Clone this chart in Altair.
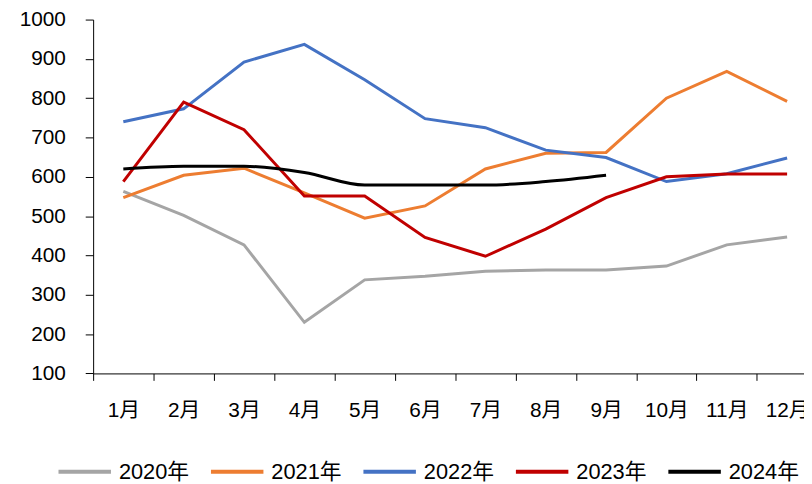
import altair as alt
import pandas as pd

months = list(range(1, 13))
years = ['2020年', '2021年', '2022年', '2023年', '2024年']
colors = ['#A5A5A5', '#ED7D31', '#4472C4', '#C00000', '#000000']

v2020 = [563, 502, 427, 230, 338, 347, 360, 363, 363, 373, 427, 447]
v2021 = [547, 604, 622, 559, 495, 526, 620, 660, 662, 800, 868, 792]
v2022 = [740, 773, 892, 937, 847, 748, 725, 668, 649, 588, 608, 648]
v2023 = [588, 790, 720, 551, 551, 446, 398, 467, 547, 600, 607, 607]
v2024 = [620, 627, 627, 611, 579, 579, 579, 588, 604]

FONT = 'Liberation Sans, Arial, Noto Sans CJK SC'


def to_long(values, year):
    return pd.DataFrame({'月份': months[:len(values)], '价格': values, '年份': year})


df = pd.concat([to_long(v, y) for v, y in
                zip([v2020, v2021, v2022, v2023, v2024], years)],
               ignore_index=True)

x_enc = alt.X('月份:Q',
              scale=alt.Scale(domain=[0.5, 12.28], nice=False, zero=False),
              axis=alt.Axis(values=months, labelExpr="datum.value + '月'",
                            tickOffset=-30.5, labelOffset=30.5,
                            labelFlush=False, labelOverlap=False,
                            tickSize=7, labelPadding=20,
                            labelBaseline='top',
                            grid=False, title=None))
y_enc = alt.Y('价格:Q',
              scale=alt.Scale(domain=[100, 1000], nice=False, zero=False),
              axis=alt.Axis(values=list(range(100, 1001, 100)), format='d',
                            tickSize=8, labelPadding=20,
                            grid=False, title=None))
color_enc = alt.Color('年份:N',
                      scale=alt.Scale(domain=years, range=colors),
                      legend=alt.Legend(title=None, orient='none',
                                        direction='horizontal',
                                        legendX=-37, legendY=428,
                                        symbolType='stroke', symbolSize=2809,
                                        symbolStrokeWidth=4,
                                        labelFontSize=22, labelOffset=6,
                                        columnPadding=14, padding=0))

base = alt.Chart(df).encode(x=x_enc, y=y_enc, color=color_enc)

straight = base.transform_filter(alt.datum['年份'] != '2024年').mark_line(
    strokeWidth=3)
smooth = base.transform_filter(alt.datum['年份'] == '2024年').mark_line(
    strokeWidth=3, interpolate='monotone')

chart = alt.layer(straight, smooth).properties(
    width=718, height=357.4,
    autosize=alt.AutoSizeParams(type='none'),
    padding={'left': 86, 'top': 9.3, 'right': 0, 'bottom': 109.3}
).configure_view(stroke=None).configure_axis(
    labelFont=FONT, labelFontSize=21, labelColor='#000',
    domainColor='#000', tickColor='#000', domainWidth=1, tickWidth=1
).configure_legend(labelFont=FONT, labelColor='#000')

chart.save('out.html', embed_options={'renderer': 'svg', 'actions': False})
